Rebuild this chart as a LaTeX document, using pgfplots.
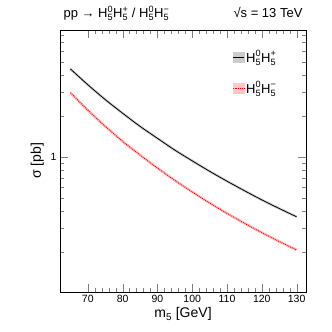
\documentclass[border=0pt]{standalone}
\usepackage{fontspec}
\setmainfont{Liberation Sans}
\usepackage{amsmath}
\usepackage{pgfplots}
\pgfplotsset{compat=1.18}
\newcommand{\HH}[2]{$\text{H}^{\text{#1}}_{\text{5}}\text{H}^{\text{#2}}_{\text{5}}$}
\begin{document}
\begin{tikzpicture}
\path[use as bounding box] (-60pt,-40pt) rectangle (272pt,292pt);
\begin{axis}[
  scale only axis, width=246pt, height=262pt,
  clip mode=individual,
  xmin=62, xmax=132.7,
  ymode=log, ymin=0.102, ymax=8.65,
  xtick={70,80,...,130}, minor x tick num=4,
  ytick={1}, yticklabels={1},
  minor ytick={0.2,0.3,0.4,0.5,0.6,0.7,0.8,0.9,2,3,4,5,6,7,8},
  tick align=inside, tick pos=both,
  major tick length=8pt, minor tick length=4pt,
  /pgf/number format/assume math mode=true,
  tick label style={font=\fontsize{10.5}{12}\selectfont},
  xlabel={m\textsubscript{5} [GeV]}, ylabel={σ [pb]},
  label style={font=\fontsize{14}{16}\selectfont},
  xlabel style={yshift=2pt},
  legend style={at={(rel axis cs:0.70,0.93)}, anchor=north west, draw=none, fill=none,
    row sep=13pt, font=\fontsize{13}{14}\selectfont, inner sep=0pt},
  legend cell align=left,
]
\addlegendimage{legend image code/.code={\fill[gray!40] (0pt,-5pt) rectangle (11pt,5pt); \draw[black, line width=0.8pt] (0pt,0pt) -- (11pt,0pt);}}
\addlegendentry{\HH{0}{+}}
\addlegendimage{legend image code/.code={\fill[red!22] (0pt,-5pt) rectangle (11pt,5pt); \draw[red, densely dotted, line width=0.8pt] (0pt,0pt) -- (11pt,0pt);}}
\addlegendentry{\HH{0}{−}}
\addplot[gray!35, line width=2.6pt, smooth, forget plot] coordinates {
(65,4.47) (70,3.42) (75,2.66) (80,2.11) (85,1.69) (90,1.38) (95,1.13) (100,0.942) (105,0.789) (110,0.667) (115,0.568) (120,0.486) (125,0.420) (130,0.365)};
\addplot[black, line width=0.8pt, smooth, forget plot] coordinates {
(65,4.47) (70,3.42) (75,2.66) (80,2.11) (85,1.69) (90,1.38) (95,1.13) (100,0.942) (105,0.789) (110,0.667) (115,0.568) (120,0.486) (125,0.420) (130,0.365)};
\addplot[red!25, line width=2.6pt, smooth, forget plot] coordinates {
(65,2.99) (70,2.22) (75,1.69) (80,1.31) (85,1.04) (90,0.834) (95,0.676) (100,0.556) (105,0.461) (110,0.387) (115,0.327) (120,0.279) (125,0.240) (130,0.208)};
\addplot[red, densely dotted, line width=0.9pt, smooth, forget plot] coordinates {
(65,2.99) (70,2.22) (75,1.69) (80,1.31) (85,1.04) (90,0.834) (95,0.676) (100,0.556) (105,0.461) (110,0.387) (115,0.327) (120,0.279) (125,0.240) (130,0.208)};
\node[anchor=base west, font=\fontsize{13}{14}\selectfont] at ([yshift=12pt]rel axis cs:0,1) {pp → \HH{0}{+} / \HH{0}{−}};
\node[anchor=base east, font=\fontsize{13}{14}\selectfont] at ([yshift=12pt]rel axis cs:1,1) {√s = 13 TeV};
\end{axis}
\end{tikzpicture}
\end{document}
